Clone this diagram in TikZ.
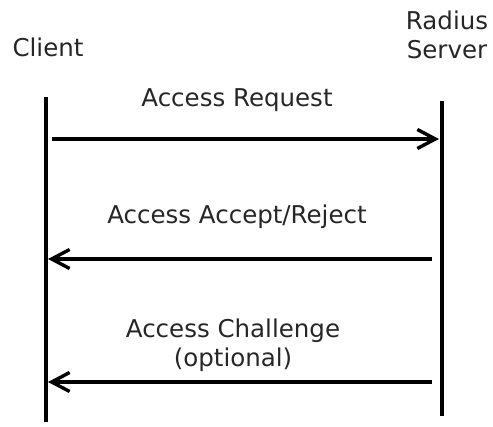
\documentclass[tikz,border=0pt]{standalone}
\usepackage{fontspec}
\setmainfont{DejaVu Sans}
\usetikzlibrary{arrows.meta}
\begin{document}
\begin{tikzpicture}[x=1pt,y=-1pt,
  label/.style={inner sep=0pt, font=\fontsize{24.5}{29}\selectfont, text=black!85, align=center},
  lifeline/.style={line width=3.4pt},
  msg/.style={line width=3.4pt, -{Straight Barb[length=18pt,width=19pt,line width=3.4pt]}}]
  \useasboundingbox (0,0) rectangle (493,427);

  % participants
  \node[label] (client) at (48,47) {Client};
  \node[label] (server) at (447,35) {Radius\\Server};

  % lifelines
  \coordinate (cTop) at (46,97);
  \coordinate (cBot) at (46,422);
  \coordinate (sTop) at (442,101);
  \coordinate (sBot) at (442,416);
  \draw[lifeline] (cTop) -- (cBot);
  \draw[lifeline] (sTop) -- (sBot);

  % message end points
  \coordinate (m1a) at (52,139);
  \coordinate (m1b) at (439,139);
  \coordinate (m2a) at (432,259);
  \coordinate (m2b) at (48,259);
  \coordinate (m3a) at (432,382);
  \coordinate (m3b) at (48,382);

  \draw[msg] (m1a) -- (m1b);
  \draw[msg] (m2a) -- (m2b);
  \draw[msg] (m3a) -- (m3b);

  % message labels
  \node[label] (l1) at (237,100) {Access Request};
  \node[label] (l2) at (237,217) {Access Accept/Reject};
  \node[label] (l3) at (233,345) {Access Challenge\\(optional)};
\end{tikzpicture}
\end{document}
